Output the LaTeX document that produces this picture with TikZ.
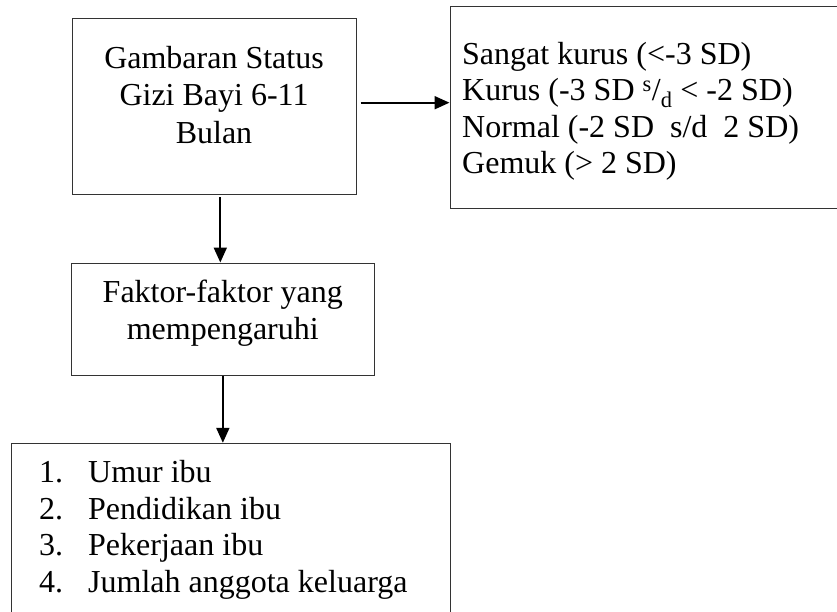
\documentclass[tikz,border=0pt]{standalone}
\usepackage{fontspec}
\setmainfont{Liberation Serif}
\usetikzlibrary{arrows.meta}
\begin{document}
\begin{tikzpicture}[x=1pt,y=-1pt,
  box/.style={draw=black!80,line width=1pt,inner sep=0pt,minimum width=#1},
  txt/.style={inner sep=0pt,font=\fontsize{32}{37.2}\selectfont},
  arr/.style={line width=2pt,-{Triangle[length=15pt,width=13pt]}}]
\useasboundingbox (0,0) rectangle (837,612);
\node[box=284pt,minimum height=176pt] (b1) at (214,107) {};
\node[box=395pt,minimum height=202pt] (rbox) at (647.5,108) {};
\node[box=302.3pt,minimum height=112pt] (b2) at (222.85,319) {};
\node[box=439pt,minimum height=190pt] (b3) at (230.5,538.3) {};
\node[txt,align=center,anchor=north] (t1) at (214,46.3) {Gambaran Status\\Gizi Bayi 6-11\\Bulan};
\node[txt,align=left,anchor=north west,font=\fontsize{32}{36.2}\selectfont] (t2) at (462,42.3) {Sangat kurus (<-3 SD)\\Kurus (-3 SD \textsuperscript{s}/\textsubscript{d} < -2 SD)\\Normal (-2 SD\ \ s/d\ \ 2 SD)\\Gemuk (> 2 SD)};
\node[txt,align=center,anchor=north] (t3) at (222.8,279.7) {Faktor-faktor yang\\mempengaruhi};
\node[txt,align=left,anchor=north west,font=\fontsize{32}{36.7}\selectfont] (t4) at (39,460) {\makebox[49pt][l]{1.}Umur ibu\\\makebox[49pt][l]{2.}Pendidikan ibu\\\makebox[49pt][l]{3.}Pekerjaan ibu\\\makebox[49pt][l]{4.}Jumlah anggota keluarga};
\path ([yshift=4.3pt]b1.east) coordinate (a1s);
\draw[arr,shorten <=4pt] (a1s) -- (a1s -| rbox.west);
\path ([xshift=6.3pt]b1.south) coordinate (a2s);
\draw[arr,shorten <=2pt] (a2s) -- (a2s |- b2.north);
\draw[arr] (b2.south) -- (b2.south |- b3.north);
\end{tikzpicture}
\end{document}
